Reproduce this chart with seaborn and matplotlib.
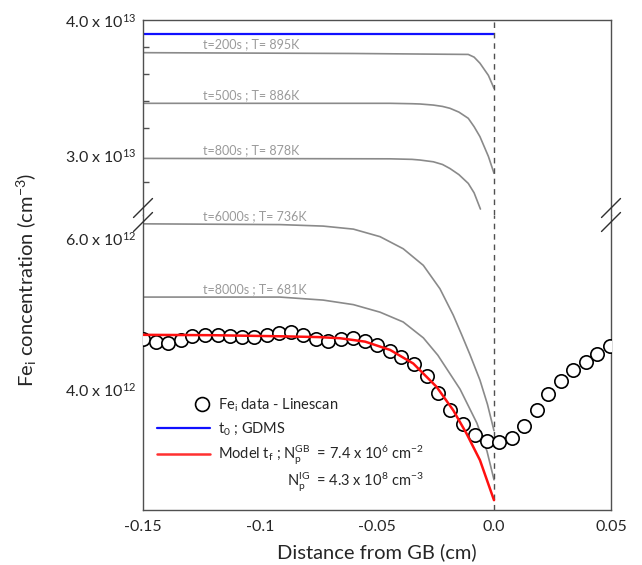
import numpy as np
import pandas as pd
import matplotlib
matplotlib.use("Agg")
import matplotlib.pyplot as plt
import seaborn as sns
from matplotlib.lines import Line2D
from matplotlib.legend_handler import HandlerLine2D
from matplotlib.ticker import FixedLocator

sns.set_style("white")
plt.rcParams['font.family'] = ['Lato', 'DejaVu Sans']
plt.rcParams['mathtext.fontset'] = 'custom'
plt.rcParams['mathtext.rm'] = 'Lato'
plt.rcParams['mathtext.it'] = 'Lato:italic'
plt.rcParams['mathtext.bf'] = 'Lato:bold'

# ---- data (upper panel in 1e13 cm-3, lower panel in 1e12 cm-3) ----
x_t0 = [-0.15, 0.0]
y_t0 = [3.896, 3.896]

x_200 = [-0.15, -0.06, -0.011, -0.0085, -0.006, -0.0024, 0.0]
y_200 = [3.758, 3.752, 3.745, 3.725, 3.68, 3.59, 3.494]

x_500 = [-0.15, -0.0444, -0.035, -0.0316, -0.0259, -0.022, -0.0188, -0.015,
         -0.011, -0.0085, -0.006, -0.0024, 0.0]
y_500 = [3.383, 3.383, 3.380, 3.378, 3.370, 3.360, 3.346, 3.318,
         3.272, 3.21, 3.136, 2.99, 2.865]

x_800 = [-0.15, -0.0444, -0.035, -0.0316, -0.0259, -0.022, -0.0188, -0.015,
         -0.011, -0.0085, -0.0058]
y_800 = [2.975, 2.972, 2.968, 2.963, 2.95, 2.93, 2.90, 2.855, 2.79, 2.72, 2.60]

x_6000 = [-0.15, -0.0915, -0.073, -0.0601, -0.0487, -0.0388, -0.0302, -0.0231,
          -0.0174, -0.0138, -0.0103, -0.006, -0.0028, 0.0]
y_6000 = [6.19, 6.18, 6.16, 6.12, 6.02, 5.86, 5.64, 5.33, 4.98, 4.72, 4.46, 4.12, 3.80, 3.45]

x_8000 = [-0.15, -0.0915, -0.073, -0.0601, -0.0487, -0.0388, -0.0302, -0.024,
          -0.0145, -0.0073, -0.003, 0.0]
y_8000 = [5.22, 5.22, 5.18, 5.12, 5.02, 4.89, 4.68, 4.45, 4.00, 3.55, 3.18, 2.80]

x_model = [-0.15, -0.12, -0.09, -0.075, -0.0658, -0.0551, -0.0444, -0.0345,
           -0.0245, -0.0174, -0.0117, -0.006, 0.0]
y_model = [4.72, 4.715, 4.70, 4.69, 4.675, 4.63, 4.52, 4.34, 4.03, 3.72, 3.41, 3.06, 2.53]

x_scan = [-0.150, -0.1446, -0.1392, -0.1339, -0.1289, -0.1235, -0.1181, -0.1128,
          -0.1078, -0.1026, -0.0971, -0.0918, -0.0868, -0.0815, -0.0762, -0.0708,
          -0.0654, -0.0603, -0.0551, -0.0498, -0.0444, -0.0397, -0.0342, -0.0288,
          -0.0239, -0.0188, -0.0131, -0.0081, -0.0030, 0.0023, 0.0076, 0.0128,
          0.0182, 0.0232, 0.0286, 0.0339, 0.0393, 0.0442, 0.0496]
y_scan = [4.67, 4.63, 4.61, 4.65, 4.70, 4.72, 4.72, 4.71, 4.69, 4.69, 4.72, 4.75,
          4.76, 4.72, 4.67, 4.64, 4.66, 4.68, 4.64, 4.58, 4.51, 4.43, 4.33, 4.17,
          3.95, 3.73, 3.54, 3.39, 3.32, 3.30, 3.36, 3.51, 3.72, 3.93, 4.11, 4.25,
          4.36, 4.47, 4.57]

upper_curves = [(x_200, y_200, "t=200s ; T= 895K"),
                (x_500, y_500, "t=500s ; T= 886K"),
                (x_800, y_800, "t=800s ; T= 878K")]
lower_curves = [(x_6000, y_6000, "t=6000s ; T= 736K"),
                (x_8000, y_8000, "t=8000s ; T= 681K")]

xticks = [-0.15, -0.1, -0.05, 0.0, 0.05]
xtick_labels = ['-0.15', '-0.1', '-0.05', '0.0', '0.05']
upper_ticks = [3.0e13, 4.0e13]
upper_minor = [2.8e13, 3.2e13, 3.4e13, 3.6e13, 3.8e13]
upper_tick_labels = [r'3.0 x 10$^{13}$', r'4.0 x 10$^{13}$']
lower_ticks = [4.0e12, 6.0e12]
lower_tick_labels = [r'4.0 x 10$^{12}$', r'6.0 x 10$^{12}$']

E13 = 1e13
E12 = 1e12


class RightMarkerHandler(HandlerLine2D):
    # put the legend circle near the right end of the key, like the original
    def get_xdata(self, legend, xdescent, ydescent, width, height, fontsize):
        p = -xdescent + width - 0.5 * fontsize
        return np.array([p - 1.0, p + 1.0]), np.array([p])


# ---- figure ----
W, H = 642, 565
fig = plt.figure(figsize=(W / 100, H / 100), dpi=100)
left, right, top, mid, bot = 143, 611, 20, 215, 510
ax_top = fig.add_axes([left / W, 1 - mid / H, (right - left) / W, (mid - top) / H])
ax_bot = fig.add_axes([left / W, 1 - bot / H, (right - left) / W, (bot - mid) / H])

gray = '#8a8a8a'
spine_c = '#505050'

# upper panel
sns.lineplot(x=np.array(x_t0), y=np.array(y_t0) * E13, ax=ax_top, color='#1010ff',
             lw=1.6, estimator=None, sort=False)
for xs, ys, lab in upper_curves:
    sns.lineplot(x=np.array(xs), y=np.array(ys) * E13, ax=ax_top, color=gray,
                 lw=1.2, estimator=None, sort=False)
    ax_top.annotate(lab, (-0.1245, ys[0] * E13), xytext=(0, 1.5),
                    textcoords='offset points', ha='left', va='bottom',
                    color='#9a9a9a', fontsize=9)

# lower panel
for xs, ys, lab in lower_curves:
    sns.lineplot(x=np.array(xs), y=np.array(ys) * E12, ax=ax_bot, color=gray,
                 lw=1.2, estimator=None, sort=False)
    ax_bot.annotate(lab, (-0.1245, ys[0] * E12), xytext=(0, 1.5),
                    textcoords='offset points', ha='left', va='bottom',
                    color='#9a9a9a', fontsize=9)

scan = pd.DataFrame({'x': x_scan, 'y': np.array(y_scan) * E12})
ax_bot.plot(scan['x'], scan['y'], ls='none', marker='o', ms=9.6, mfc='white',
            mec='black', mew=1.2, zorder=3)
sns.lineplot(x=np.array(x_model), y=np.array(y_model) * E12, ax=ax_bot,
             color='#ff1010', lw=1.8, estimator=None, sort=False, zorder=4)

for ax in (ax_top, ax_bot):
    ax.axvline(0.0, color='#505050', lw=1.0, ls=(0, (4, 3.5)), zorder=2)
    ax.set_xlim(-0.15, 0.05)
    for s in ax.spines.values():
        s.set_color(spine_c)
        s.set_linewidth(1.0)
    ax.tick_params(direction='in', length=4, width=1.0, color=spine_c,
                   labelsize=11.5, pad=5, which='both')
    ax.set_ylabel('')
    ax.set_xlabel('')

ax_top.set_ylim(2.556e13, 4.0e13)
ax_top.spines['bottom'].set_visible(False)
ax_top.set_xticks([])
ax_top.yaxis.set_major_locator(FixedLocator(upper_ticks))
ax_top.set_yticklabels(upper_tick_labels)
ax_top.yaxis.set_minor_locator(FixedLocator(upper_minor))
ax_top.tick_params(axis='y', which='minor', left=True, length=4)

ax_bot.set_ylim(2.4e12, 6.307e12)
ax_bot.spines['top'].set_visible(False)
ax_bot.yaxis.set_major_locator(FixedLocator(lower_ticks))
ax_bot.set_yticklabels(lower_tick_labels)
ax_bot.set_xticks(xticks)
ax_bot.set_xticklabels(xtick_labels)
ax_bot.tick_params(axis='x', pad=7)
ax_bot.set_xlabel('Distance from GB (cm)', fontsize=14.5, labelpad=7)

fig.text(27 / W, 1 - 280 / H, r'Fe$_\mathrm{i}$ concentration (cm$^{-3}$)',
         rotation=90, ha='center', va='center', fontsize=14.5)

# axis break marks
for xb in (left, right):
    for dy in (-7, 7):
        yc = mid + dy
        fig.add_artist(Line2D([(xb - 9.5) / W, (xb + 9.5) / W],
                              [1 - (yc + 9.5) / H, 1 - (yc - 9.5) / H],
                              color='#303030', lw=1.0))

# legend
scan_key = Line2D([], [], ls='none', marker='o', ms=10, mfc='white', mec='black', mew=1.2)
handles = [
    scan_key,
    Line2D([], [], color='#1010ff', lw=1.6),
    Line2D([], [], color='#ff3030', lw=1.8),
]
labels = [r'Fe$_\mathrm{i}$ data - Linescan',
          r't$_\mathrm{0}$ ; GDMS',
          r'Model t$_\mathrm{f}$ ; N$_\mathrm{p}^\mathrm{GB}$  = 7.4 x 10$^\mathrm{6}$ cm$^\mathrm{-2}$']
ax_bot.legend(handles, labels, loc='upper left', bbox_to_anchor=(0.03, 0.385),
              frameon=False, numpoints=1, handlelength=3.6, handletextpad=0.55,
              borderpad=0, borderaxespad=0, labelspacing=0.45, fontsize=10.5,
              handler_map={scan_key: RightMarkerHandler(numpoints=1)})
ax_bot.text(0.308, 0.094, r'N$_\mathrm{p}^\mathrm{IG}$  = 4.3 x 10$^\mathrm{8}$ cm$^\mathrm{-3}$',
            transform=ax_bot.transAxes, ha='left', va='center', fontsize=10.5)

fig.savefig('out.png', dpi=100)
